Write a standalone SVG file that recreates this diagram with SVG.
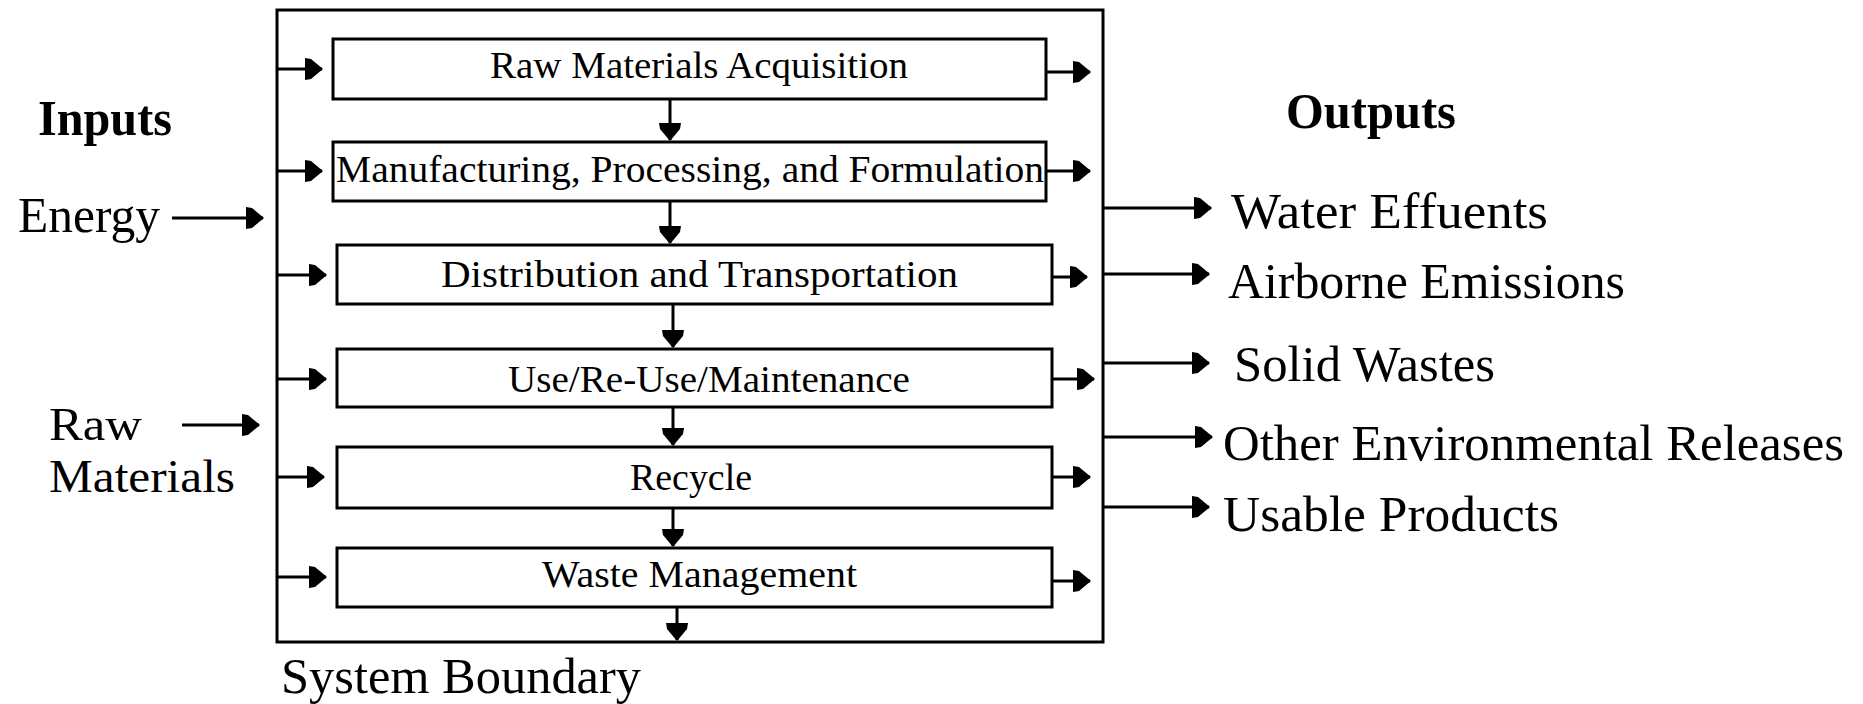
<svg xmlns="http://www.w3.org/2000/svg" width="1863" height="704" viewBox="0 0 1863 704">
<defs>
<style>
.bd{fill:#fff;stroke:#000;stroke-width:3}
.ln{fill:none;stroke:#000;stroke-width:3;marker-end:url(#ah)}
.t{font-family:"Liberation Serif","Times New Roman",serif;fill:#000}
.bx{font-size:38px}
.lb{font-size:50px}
.rm{font-size:46px}
.hd{font-size:50px;font-weight:bold}
</style>
<marker id="ah" viewBox="0 -12 18 24" markerWidth="18" markerHeight="24" refX="17" refY="0" orient="auto" markerUnits="userSpaceOnUse">
<path d="M0,-11 L6,-10 L18,0 L6,10 L0,11 Z" fill="#000"/>
</marker>
</defs>
<rect width="1863" height="704" fill="#fff"/>
<g id="boundary">
<rect x="277" y="10" width="826" height="632" fill="none" stroke="#000" stroke-width="3"/>
<text class="t lb" x="281" y="693" textLength="360" lengthAdjust="spacingAndGlyphs">System Boundary</text>
</g>
<g id="n1"><rect class="bd" x="333" y="39" width="713" height="60"/><text class="t bx" x="490" y="78" textLength="418" lengthAdjust="spacingAndGlyphs">Raw Materials Acquisition</text></g>
<g id="n2"><rect class="bd" x="333" y="142" width="713" height="59"/><text class="t bx" x="336" y="182" textLength="708" lengthAdjust="spacingAndGlyphs">Manufacturing, Processing, and Formulation</text></g>
<g id="n3"><rect class="bd" x="337" y="245" width="715" height="59"/><text class="t bx" x="441" y="287" textLength="517" lengthAdjust="spacingAndGlyphs">Distribution and Transportation</text></g>
<g id="n4"><rect class="bd" x="337" y="349" width="715" height="58"/><text class="t bx" x="508" y="392" textLength="402" lengthAdjust="spacingAndGlyphs">Use/Re-Use/Maintenance</text></g>
<g id="n5"><rect class="bd" x="337" y="447" width="715" height="61"/><text class="t bx" x="630" y="490" textLength="122" lengthAdjust="spacingAndGlyphs">Recycle</text></g>
<g id="n6"><rect class="bd" x="337" y="548" width="715" height="59"/><text class="t bx" x="542" y="587" textLength="315" lengthAdjust="spacingAndGlyphs">Waste Management</text></g>
<g id="inputs">
<text class="t hd" x="38" y="135" textLength="134" lengthAdjust="spacingAndGlyphs">Inputs</text>
<text class="t lb" x="18" y="232" textLength="142" lengthAdjust="spacingAndGlyphs">Energy</text>
<text class="t rm" x="49" y="440" textLength="93" lengthAdjust="spacingAndGlyphs">Raw</text>
<text class="t rm" x="49" y="492" textLength="186" lengthAdjust="spacingAndGlyphs">Materials</text>
</g>
<g id="outputs">
<text class="t hd" x="1286" y="128" textLength="170" lengthAdjust="spacingAndGlyphs">Outputs</text>
<text class="t lb" x="1231" y="228" textLength="317" lengthAdjust="spacingAndGlyphs">Water Effuents</text>
<text class="t lb" x="1228" y="298" textLength="397" lengthAdjust="spacingAndGlyphs">Airborne Emissions</text>
<text class="t lb" x="1234" y="381" textLength="261" lengthAdjust="spacingAndGlyphs">Solid Wastes</text>
<text class="t lb" x="1223" y="460" textLength="621" lengthAdjust="spacingAndGlyphs">Other Environmental Releases</text>
<text class="t lb" x="1223" y="531" textLength="336" lengthAdjust="spacingAndGlyphs">Usable Products</text>
</g>
<g id="connectors">
<line class="ln" x1="172" y1="218" x2="263" y2="218"/>
<line class="ln" x1="182" y1="425" x2="259" y2="425"/>
<line class="ln" x1="277" y1="69" x2="322" y2="69"/>
<line class="ln" x1="277" y1="171" x2="322" y2="171"/>
<line class="ln" x1="277" y1="275" x2="326" y2="275"/>
<line class="ln" x1="277" y1="379" x2="326" y2="379"/>
<line class="ln" x1="277" y1="477" x2="324" y2="477"/>
<line class="ln" x1="277" y1="577" x2="326" y2="577"/>
<line class="ln" x1="1046" y1="72" x2="1090" y2="72"/>
<line class="ln" x1="1046" y1="171" x2="1090" y2="171"/>
<line class="ln" x1="1052" y1="277" x2="1087" y2="277"/>
<line class="ln" x1="1052" y1="379" x2="1094" y2="379"/>
<line class="ln" x1="1052" y1="477" x2="1090" y2="477"/>
<line class="ln" x1="1052" y1="581" x2="1090" y2="581"/>
<line class="ln" x1="670" y1="99" x2="670" y2="140"/>
<line class="ln" x1="670" y1="201" x2="670" y2="243"/>
<line class="ln" x1="673" y1="304" x2="673" y2="347"/>
<line class="ln" x1="673" y1="407" x2="673" y2="445"/>
<line class="ln" x1="673" y1="508" x2="673" y2="546"/>
<line class="ln" x1="677" y1="607" x2="677" y2="640"/>
<line class="ln" x1="1103" y1="208" x2="1211" y2="208"/>
<line class="ln" x1="1103" y1="274" x2="1209" y2="274"/>
<line class="ln" x1="1103" y1="363" x2="1209" y2="363"/>
<line class="ln" x1="1103" y1="437" x2="1212" y2="437"/>
<line class="ln" x1="1103" y1="507" x2="1209" y2="507"/>
</g>
</svg>
